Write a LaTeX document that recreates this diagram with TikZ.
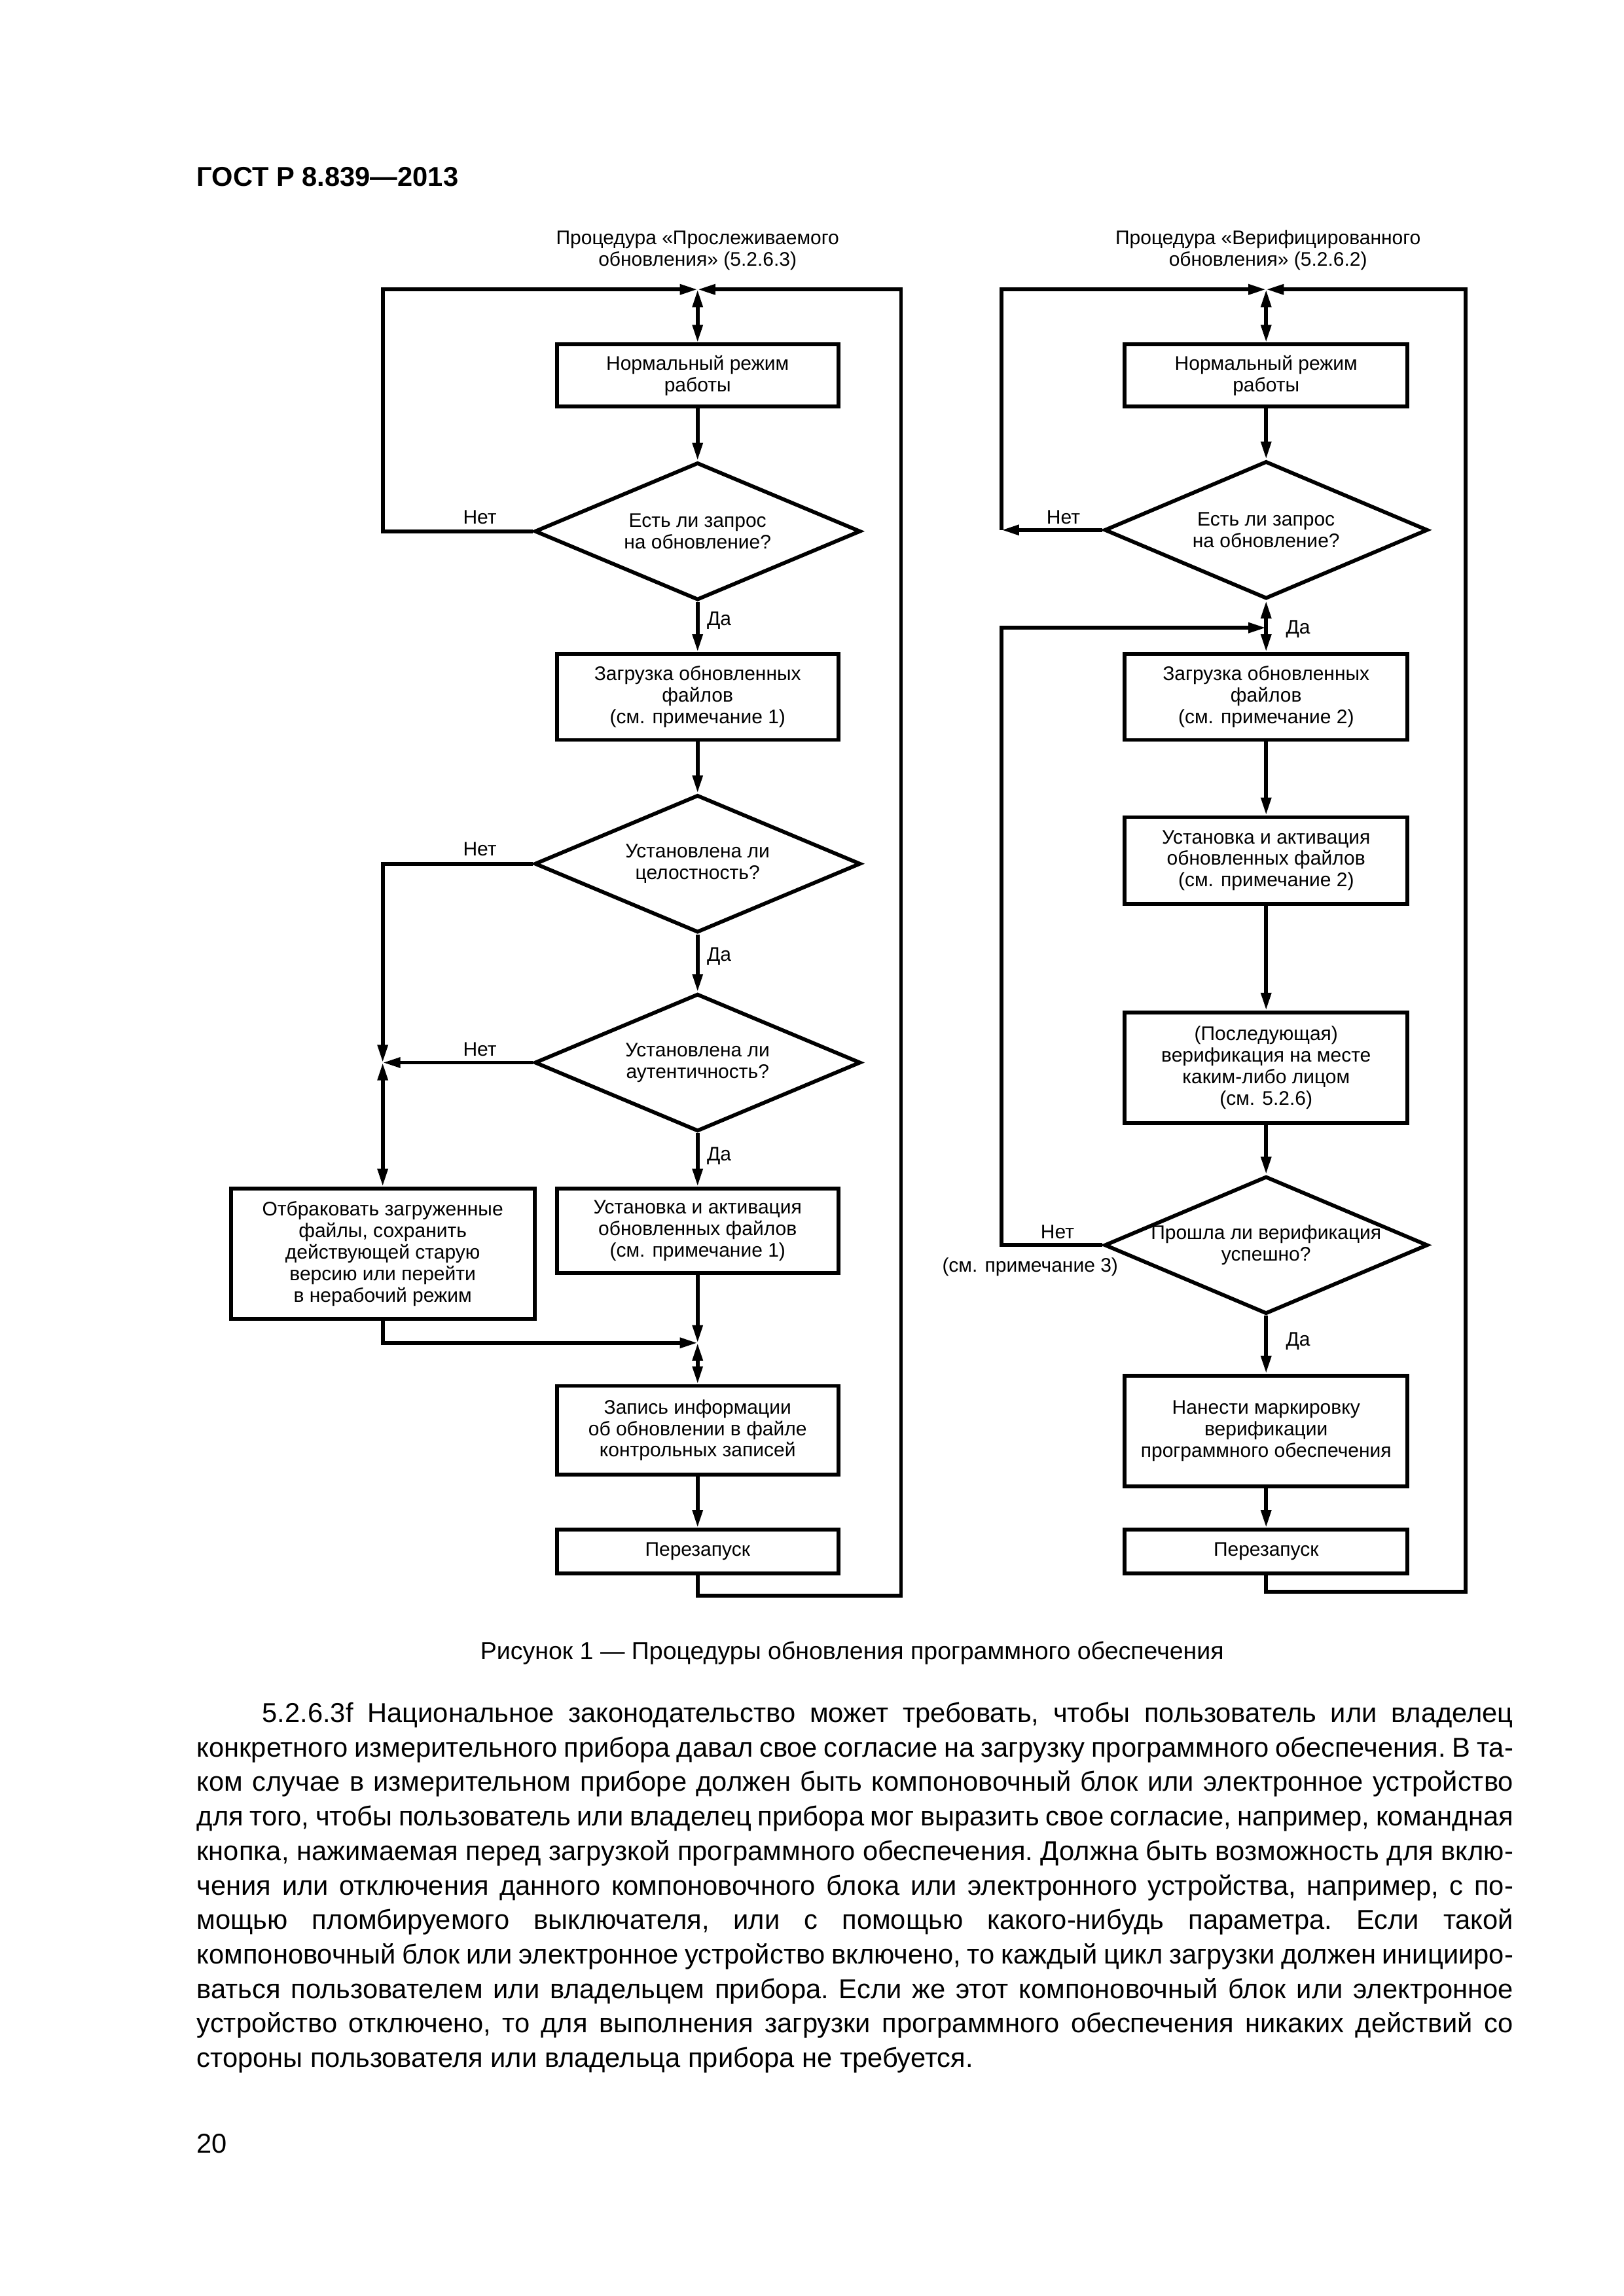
\documentclass[tikz,border=0pt]{standalone}
\usepackage{fontspec}
\setmainfont{Liberation Sans}
\usetikzlibrary{arrows.meta,shapes.geometric}
\newcommand\fsz{\fontsize{7.2}{7.9}\selectfont}
\newcommand\pu{0.23904pt}
\newlength\bodyw
\setlength\bodyw{482.7pt}
\newcommand\jline[1]{\hbox to \bodyw{#1}}
\begin{document}
\begin{tikzpicture}[x=\pu,y=-\pu, line width=1.4pt,
  >={Triangle[length=6.5pt,width=3.6pt]},
  fbox/.style={draw, align=center, font=\fsz, inner sep=0pt},
  lbox/.style={fbox, minimum width=432*\pu},
  rbox/.style={fbox, minimum width=434*\pu},
  wbox/.style={fbox, minimum width=466*\pu},
  dia/.style={draw, diamond, inner sep=0pt, minimum width=500*\pu, minimum height=211*\pu},
  rdia/.style={draw, diamond, inner sep=0pt, minimum width=496*\pu, minimum height=211*\pu},
  lab/.style={font=\fsz, inner sep=0pt, align=center}]
\useasboundingbox (0,0) rectangle (2489.96,3522.09);

% header
\node[anchor=base west, inner sep=0pt, font=\fontsize{10}{12}\selectfont\bfseries] (hdr) at (299,286) {ГОСТ Р 8.839—2013};

% titles
\node[lab] (ltitle) at (1070,384) {Процедура «Прослеживаемого\\обновления» (5.2.6.3)};
\node[lab] (rtitle) at (1945,384) {Процедура «Верифицированного\\обновления» (5.2.6.2)};

% ---------- left chart ----------
\coordinate (T1) at (1070,444);
\coordinate (L1) at (587,444);
\coordinate (R1) at (1382,444);
\coordinate (B1) at (1070,2448);
\coordinate (J2) at (587,1630);
\coordinate (J3) at (1070,2060);

\node[lbox, minimum height=95*\pu] (lb1) at (1070,576) {Нормальный режим\\работы};
\node[dia, label={[lab]center:Есть ли запрос\\на обновление?}] (ld1) at (1070,815) {};
\node[lbox, minimum height=132*\pu] (lb2) at (1070,1069) {Загрузка обновленных\\файлов\\(см. примечание 1)};
\node[dia, label={[lab]center:Установлена ли\\целостность?}] (ld2) at (1070,1325) {};
\node[dia, label={[lab]center:Установлена ли\\аутентичность?}] (ld3) at (1070,1630) {};
\node[lbox, minimum height=130*\pu] (lb3) at (1070,1888) {Установка и активация\\обновленных файлов\\(см. примечание 1)};
\node[wbox, minimum height=200*\pu] (lrej) at (587,1923) {Отбраковать загруженные\\файлы, сохранить\\действующей старую\\версию или перейти\\в нерабочий режим};
\node[lbox, minimum height=136*\pu] (lb4) at (1070,2194) {Запись информации\\об обновлении в файле\\контрольных записей};
\node[lbox, minimum height=67*\pu] (lb5) at (1070,2380) {Перезапуск};

\draw[<->] (T1) -- (lb1.north);
\draw[->] (lb1.south) -- (ld1.north);
\draw[->] (ld1.west) -| (L1) -- (T1);
\draw[->] (ld1.south) -- (lb2.north);
\draw[->] (lb2.south) -- (ld2.north);
\draw[->] (ld2.west) -| (J2);
\draw[->] (ld2.south) -- (ld3.north);
\draw[->] (ld3.west) -- (J2);
\draw[<->] (J2) -- (lrej.north);
\draw[->] (ld3.south) -- (lb3.north);
\draw[->] (lrej.south) |- (J3);
\draw[->] (lb3.south) -- (J3);
\draw[<->] (J3) -- (lb4.north);
\draw[->] (lb4.south) -- (lb5.north);
\draw[->] (lb5.south) -- (B1) -| (R1) -- (T1);

\node[lab] (ln1) at (736,793) {Нет};
\node[lab] (ln2) at (736,1303) {Нет};
\node[lab] (ln3) at (736,1610) {Нет};
\node[lab] (ly1) at (1103,952) {Да};
\node[lab] (ly2) at (1103,1467) {Да};
\node[lab] (ly3) at (1103,1773) {Да};

% ---------- right chart ----------
\coordinate (T2) at (1942,444);
\coordinate (RL1) at (1536,813);
\coordinate (RR) at (2248,444);
\coordinate (B2) at (1942,2442);
\coordinate (J4) at (1942,963);
\coordinate (RL2) at (1536,963);

\node[rbox, minimum height=95*\pu] (rb1) at (1942,576) {Нормальный режим\\работы};
\node[rdia, label={[lab]center:Есть ли запрос\\на обновление?}] (rd1) at (1942,813) {};
\node[rbox, minimum height=132*\pu] (rb2) at (1942,1069) {Загрузка обновленных\\файлов\\(см. примечание 2)};
\node[rbox, minimum height=133*\pu] (rb3) at (1942,1320) {Установка и активация\\обновленных файлов\\(см. примечание 2)};
\node[rbox, minimum height=170*\pu] (rb4) at (1942,1638) {(Последующая)\\верификация на месте\\каким-либо лицом\\(см. 5.2.6)};
\node[rdia, label={[lab]center:Прошла ли верификация\\успешно?}] (rd2) at (1942,1910) {};
\node[rbox, minimum height=170*\pu] (rb5) at (1942,2195) {Нанести маркировку\\верификации\\программного обеспечения};
\node[rbox, minimum height=67*\pu] (rb6) at (1942,2380) {Перезапуск};

\draw[<->] (T2) -- (rb1.north);
\draw[->] (rb1.south) -- (rd1.north);
\draw[->] (rd1.west) -- (RL1);
\draw[->] (RL1) |- (T2);
\draw[<->] (rd1.south) -- (rb2.north);
\draw[->] (rd2.west) -| (RL2) -- (J4);
\draw[->] (rb2.south) -- (rb3.north);
\draw[->] (rb3.south) -- (rb4.north);
\draw[->] (rb4.south) -- (rd2.north);
\draw[->] (rd2.south) -- (rb5.north);
\draw[->] (rb5.south) -- (rb6.north);
\draw[->] (rb6.south) -- (B2) -| (RR) -- (T2);

\node[lab] (rn1) at (1631,793) {Нет};
\node[lab] (rn2) at (1622,1890) {Нет};
\node[lab] (rn3) at (1580,1943) {(см. примечание 3)};
\node[lab] (ry1) at (1991,965) {Да};
\node[lab] (ry2) at (1991,2057) {Да};

% caption
\node[anchor=base, inner sep=0pt, font=\fontsize{9}{11}\selectfont] (cap) at (1307,2546) {Рисунок 1 — Процедуры обновления программного обеспечения};

% body text
\node[anchor=base west, inner sep=0pt, font=\fontsize{10}{12.65}\selectfont] (body) at (299,2642) {\vtop{\baselineskip=12.65pt\frenchspacing
\jline{\hspace*{24pt}5.2.6.3f Национальное законодательство может требовать, чтобы пользователь или владелец}
\jline{конкретного измерительного прибора давал свое согласие на загрузку программного обеспечения. В та-}
\jline{ком случае в измерительном приборе должен быть компоновочный блок или электронное устройство}
\jline{для того, чтобы пользователь или владелец прибора мог выразить свое согласие, например, командная}
\jline{кнопка, нажимаемая перед загрузкой программного обеспечения. Должна быть возможность для вклю-}
\jline{чения или отключения данного компоновочного блока или электронного устройства, например, с по-}
\jline{мощью пломбируемого выключателя, или с помощью какого-нибудь параметра. Если такой}
\jline{компоновочный блок или электронное устройство включено, то каждый цикл загрузки должен иницииро-}
\jline{ваться пользователем или владельцем прибора. Если же этот компоновочный блок или электронное}
\jline{устройство отключено, то для выполнения загрузки программного обеспечения никаких действий со}
\hbox{стороны пользователя или владельца прибора не требуется.}}};

% page number
\node[anchor=base west, inner sep=0pt, font=\fontsize{10}{12}\selectfont] (pg) at (299,3303) {20};
\end{tikzpicture}
\end{document}
